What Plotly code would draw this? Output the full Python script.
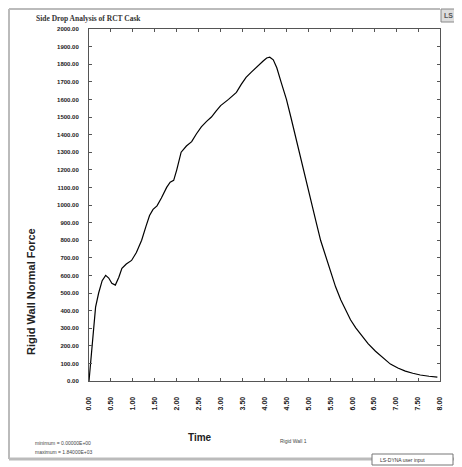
import plotly.graph_objects as go

time = [0.00, 0.05, 0.10, 0.15, 0.22, 0.30, 0.38, 0.45, 0.52, 0.60, 0.68, 0.75, 0.85, 0.97, 1.08, 1.20, 1.30, 1.38, 1.46, 1.55, 1.65, 1.77, 1.85, 1.93, 2.00, 2.10, 2.22, 2.34, 2.45, 2.56, 2.68, 2.79, 2.90, 3.00, 3.18, 3.36, 3.47, 3.58, 3.70, 3.80, 3.90, 3.97, 4.05, 4.12, 4.20, 4.28, 4.38, 4.50, 4.60, 4.72, 4.83, 4.95, 5.06, 5.17, 5.28, 5.40, 5.51, 5.62, 5.74, 5.85, 5.96, 6.08, 6.19, 6.36, 6.53, 6.70, 6.87, 7.04, 7.21, 7.38, 7.55, 7.75, 7.94]
force = [0, 150, 300, 420, 500, 570, 600, 585, 555, 545, 590, 640, 665, 685, 730, 800, 880, 940, 975, 995, 1040, 1100, 1130, 1140, 1200, 1300, 1335, 1360, 1405, 1444, 1475, 1500, 1535, 1565, 1600, 1640, 1685, 1725, 1755, 1780, 1800, 1818, 1835, 1840, 1825, 1780, 1697, 1600, 1500, 1375, 1247, 1130, 1022, 910, 798, 705, 618, 535, 460, 400, 348, 302, 264, 212, 169, 130, 96, 74, 56, 44, 34, 27, 22]

y_ticks = [i * 100 for i in range(21)]
x_ticks = [i * 0.5 for i in range(17)]

title_text = "Side Drop Analysis of RCT Cask"
y_title = "Rigid Wall Normal Force"
x_title = "Time"
series_name = "Rigid Wall 1"
min_text = "minimum = 0.00000E+00"
max_text = "maximum = 1.84000E+03"
footer_text = "LS-DYNA user input"

OFF = 8  # page body margin
W, H = 462 - OFF, 467 - OFF
L, R, T, B = 89, 440, 29, 381  # plot area in window pixels

def px(x):
    return (x - L) / (R - L)

def py(y):
    return (B - y) / (B - T)

fig = go.Figure()
fig.add_trace(go.Scatter(x=time, y=force, mode="lines", name=series_name,
                         line=dict(color="black", width=1.2), showlegend=False))

x_font = dict(family="Liberation Sans", size=7, color="#222222")
y_font = dict(family="Liberation Sans", size=6, color="#222222")

fig.update_layout(
    width=W, height=H,
    margin=dict(l=L - OFF, r=462 - R, t=T - OFF, b=467 - B),
    paper_bgcolor="white", plot_bgcolor="white",
    xaxis=dict(range=[0, 8], tickvals=x_ticks, ticktext=[f"<b>{v:.2f}</b>" for v in x_ticks],
               tickangle=-90, ticks="inside", ticklen=3, tickcolor="#555",
               showline=True, linecolor="#555", linewidth=1, mirror="ticks",
               showgrid=False, zeroline=False, tickfont=x_font,
               ticklabelstandoff=12),
    yaxis=dict(range=[0, 2000], tickvals=y_ticks, ticktext=[f"<b>{v:.2f}</b>" for v in y_ticks],
               ticks="inside", ticklen=3, tickcolor="#555",
               showline=True, linecolor="#555", linewidth=1, mirror="ticks",
               showgrid=False, zeroline=False, tickfont=y_font,
               ticklabelstandoff=8),
)

shapes = [
    dict(type="line", xref="paper", yref="paper", x0=px(9), x1=px(440), y0=py(9), y1=py(9),
         line=dict(color="#bbbbbb", width=2)),
    dict(type="line", xref="paper", yref="paper", x0=px(9), x1=px(9), y0=py(9), y1=py(459),
         line=dict(color="#bbbbbb", width=2)),
    dict(type="line", xref="paper", yref="paper", x0=px(9), x1=px(454), y0=py(459), y1=py(459),
         line=dict(color="#bbbbbb", width=3)),
    dict(type="rect", xref="paper", yref="paper", x0=px(372), x1=px(453), y0=py(454), y1=py(465),
         line=dict(color="#777777", width=1), fillcolor="white"),
    dict(type="rect", xref="paper", yref="paper", x0=px(441), x1=px(457), y0=py(9), y1=py(22),
         line=dict(color="#888888", width=1), fillcolor="#dddddd"),
]
fig.update_layout(shapes=shapes)

ann = [
    dict(text=f"<b>{title_text}</b>", x=px(34), y=py(18), xanchor="left", yanchor="middle",
         font=dict(family="Liberation Serif", size=7.5, color="#333")),
    dict(text=f"<b>{y_title}</b>", x=px(31), y=py(292), textangle=-90, xanchor="center", yanchor="middle",
         font=dict(family="Liberation Sans", size=11, color="#222")),
    dict(text=f"<b>{x_title}</b>", x=px(200), y=py(437), xanchor="center", yanchor="middle",
         font=dict(family="Liberation Sans", size=10, color="#222")),
    dict(text=series_name, x=px(278), y=py(441), xanchor="left", yanchor="middle",
         font=dict(family="Liberation Sans", size=5, color="#444")),
    dict(text=min_text, x=px(33), y=py(443), xanchor="left", yanchor="middle",
         font=dict(family="Liberation Sans", size=5, color="#444")),
    dict(text=max_text, x=px(33), y=py(452), xanchor="left", yanchor="middle",
         font=dict(family="Liberation Sans", size=5, color="#444")),
    dict(text=footer_text, x=px(378), y=py(459.5), xanchor="left", yanchor="middle",
         font=dict(family="Liberation Sans", size=5, color="#333")),
    dict(text="<b>LS</b>", x=px(449), y=py(15.5), xanchor="center", yanchor="middle",
         font=dict(family="Liberation Sans", size=7, color="#555")),
]
for a in ann:
    a.update(xref="paper", yref="paper", showarrow=False)
fig.update_layout(annotations=ann)

fig.write_html("out.html")
